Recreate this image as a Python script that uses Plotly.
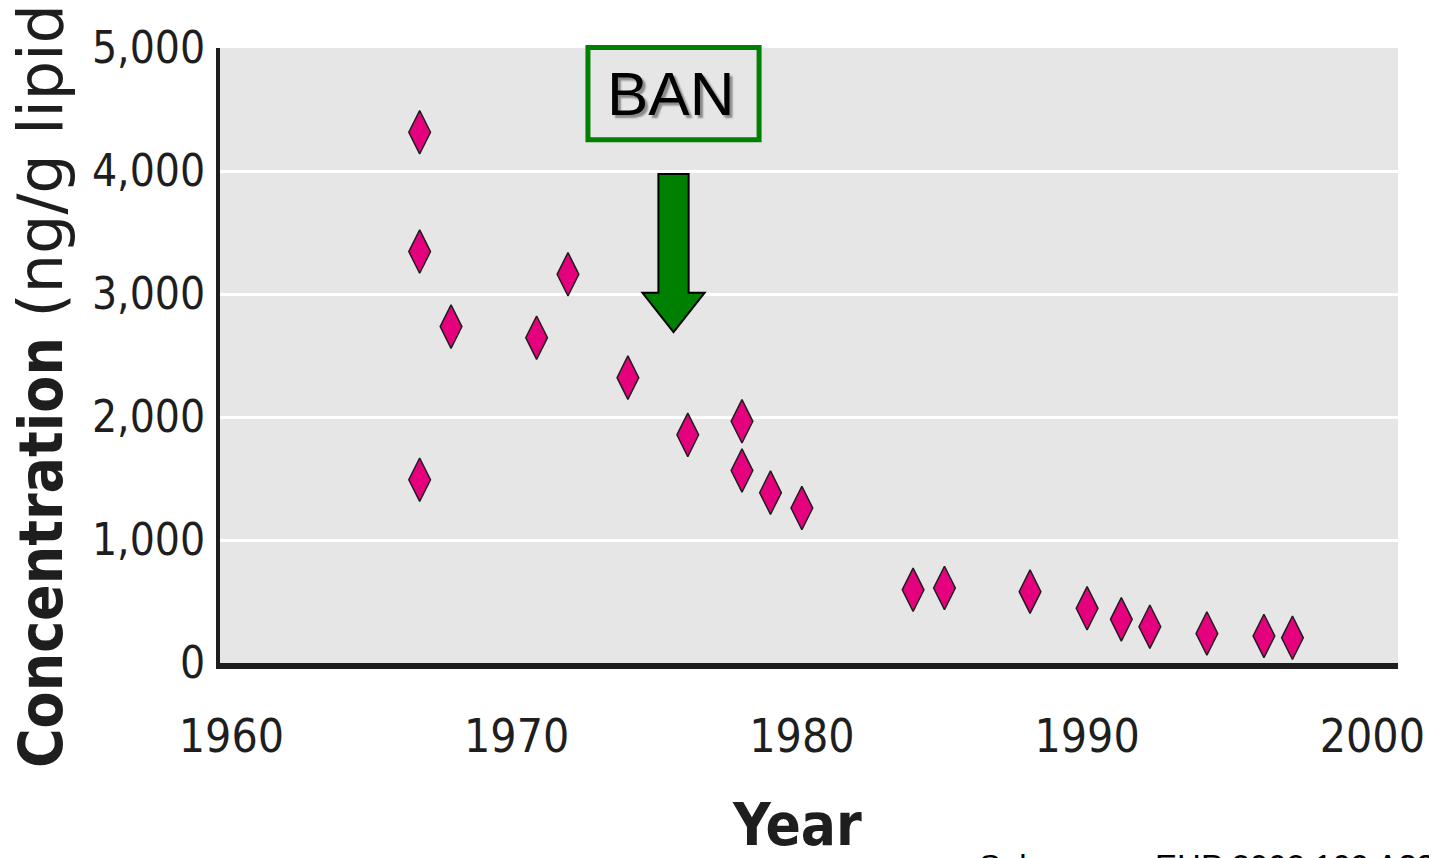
"""Concentration vs year scatter with the BAN marker."""

import plotly.graph_objects as go

# data
years = [1966.6, 1966.6, 1966.6, 1967.7, 1970.7, 1971.8, 1973.9, 1976.0,
         1977.9, 1977.9, 1978.9, 1980.0, 1983.9, 1985.0, 1988.0, 1990.0,
         1991.2, 1992.2, 1994.2, 1996.2, 1997.2]
concentration = [4315, 3345, 1490, 2735, 2645, 3160, 2320, 1855,
                 1965, 1565, 1385, 1260, 595, 610, 580, 445,
                 355, 295, 240, 220, 205]

x_ticks = [1960, 1970, 1980, 1990, 2000]
y_ticks = [0, 1000, 2000, 3000, 4000, 5000]
y_tick_text = ["0", "1,000", "2,000", "3,000", "4,000", "5,000"]

ban_year = 1975.5
ban_box_years = (1972.5, 1978.5)
ban_box_paper = (0.851, 1.0008)
arrow_top, arrow_neck, arrow_tip = 3975, 3010, 2690

NARROW = "DejaVu Sans Condensed, Liberation Sans Narrow, Arial Narrow, sans-serif"
GREEN = "#008000"
INK = "#1e1e1e"

fig = go.Figure()
fig.add_trace(go.Scatter(
    x=years, y=concentration, mode="markers",
    marker=dict(symbol="diamond-tall", size=31, color="#E5007D",
                line=dict(color=INK, width=1.5)),
    cliponaxis=False, showlegend=False,
))

# green down arrow at the ban year
sw, hw = 0.53, 1.09
arrow_path = (
    f"M {ban_year - sw},{arrow_top} L {ban_year + sw},{arrow_top} "
    f"L {ban_year + sw},{arrow_neck} L {ban_year + hw},{arrow_neck} "
    f"L {ban_year},{arrow_tip} L {ban_year - hw},{arrow_neck} "
    f"L {ban_year - sw},{arrow_neck} Z"
)
fig.add_shape(type="path", path=arrow_path, xref="x", yref="y",
              fillcolor=GREEN, line=dict(color="black", width=2))
fig.add_shape(type="rect", xref="x", yref="paper",
              x0=ban_box_years[0], x1=ban_box_years[1],
              y0=ban_box_paper[0], y1=ban_box_paper[1],
              fillcolor="#e6e6e6", line=dict(color=GREEN, width=5))
fig.add_annotation(x=ban_year - 0.1, y=sum(ban_box_paper) / 2,
                   xref="x", yref="paper", xanchor="center", yanchor="middle",
                   text="BAN", showarrow=False,
                   font=dict(family="Liberation Sans, Arial, sans-serif", size=62,
                             color="black", shadow="3px 3px 2px #8a8a8a"))

# axis titles
fig.add_annotation(
    x=-0.1528, y=-0.174, xref="paper", yref="paper", xanchor="center", yanchor="bottom",
    textangle=-90, showarrow=False,
    text=("<b>Concentration</b>"
          "<span style='font-family:DejaVu Sans, sans-serif;font-size:62px'>"
          " (ng/g lipid)</span>"),
    font=dict(family=NARROW, size=60, color=INK),
)
fig.add_annotation(x=0.49, y=-0.263, xref="paper", yref="paper",
                   xanchor="center", yanchor="middle", showarrow=False,
                   text="<b>Year</b>", font=dict(family=NARROW, size=58, color=INK))
fig.add_annotation(x=0.643, y=-0.2976, xref="paper", yref="paper",
                   xanchor="left", yanchor="top", showarrow=False,
                   text="Solomon,    EHP 2002 109 A339",
                   font=dict(family="Liberation Sans, Arial, sans-serif", size=33,
                             color="black"))

# page body has an 8px margin, so the figure is 8px smaller than the window
fig.update_layout(
    width=1429, height=850,
    margin=dict(l=212, r=39, t=40, b=195),
    paper_bgcolor="white", plot_bgcolor="#e6e6e6",
    xaxis=dict(range=[1959.6, 2000.9], tickvals=x_ticks, showgrid=False,
               zeroline=False, showline=True, linecolor=INK, linewidth=6,
               ticks="", ticklabelstandoff=28,
               tickfont=dict(family=NARROW, size=46, color=INK)),
    yaxis=dict(range=[0, 5000], tickvals=y_ticks, ticktext=y_tick_text,
               showgrid=True, gridcolor="white", gridwidth=3, zeroline=False,
               showline=True, linecolor=INK, linewidth=4, ticks="",
               ticklabelstandoff=2,
               tickfont=dict(family=NARROW, size=44, color=INK)),
)

fig.write_html("out.html")
